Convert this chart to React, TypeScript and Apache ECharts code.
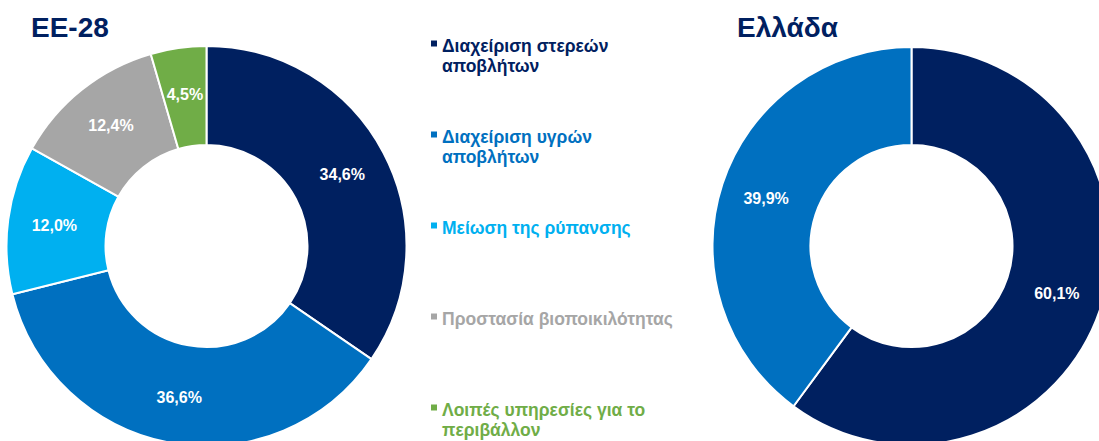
import React, { useEffect, useRef } from "react";
import * as echarts from "echarts";

const categories = [
  "Διαχείριση στερεών αποβλήτων",
  "Διαχείριση υγρών αποβλήτων",
  "Μείωση της ρύπανσης",
  "Προστασία βιοποικιλότητας",
  "Λοιπές υπηρεσίες για το περιβάλλον",
];
const legendLines = [
  ["Διαχείριση στερεών", "αποβλήτων"],
  ["Διαχείριση υγρών", "αποβλήτων"],
  ["Μείωση της ρύπανσης"],
  ["Προστασία βιοποικιλότητας"],
  ["Λοιπές υπηρεσίες για το", "περιβάλλον"],
];
const colors = ["#002060", "#0070C0", "#00B0F0", "#A6A6A6", "#70AD47"];
const eu28Values = [34.6, 36.6, 12.0, 12.4, 4.5];
const greeceCategories = [categories[0], categories[1]];
const greeceValues = [60.1, 39.9];
const titles = ["ΕΕ-28", "Ελλάδα"];

const FONT = '"Liberation Sans", Arial, sans-serif';

export default function App() {
  const ref = useRef<HTMLDivElement>(null);
  useEffect(() => {
    if (!ref.current) return;
    const chart = echarts.init(ref.current, undefined, { renderer: "svg" });
    const fmt = (p: any) => p.value.toFixed(1).replace(".", ",") + "%";
    const pieBase = {
      type: "pie",
      radius: [101, 200],
      clockwise: true,
      startAngle: 90,
      avoidLabelOverlap: false,
      itemStyle: { borderColor: "#ffffff", borderWidth: 2 },
      label: {
        show: true,
        position: "inside",
        formatter: fmt,
        color: "#ffffff",
        fontFamily: FONT,
        fontWeight: "bold",
        fontSize: 16,
      },
      labelLine: { show: false },
      emphasis: { disabled: true },
    };
    const legendGraphics: any[] = [];
    legendLines.forEach((lines, i) => {
      const base = 52 + i * 91;
      legendGraphics.push({
        type: "rect",
        left: 431,
        top: base - 11.5,
        shape: { width: 6, height: 6 },
        style: { fill: colors[i] },
      });
      legendGraphics.push({
        type: "text",
        left: 442,
        top: base - 16,
        style: {
          text: lines.join("\n"),
          fill: colors[i],
          font: `bold 17.5px ${FONT}`,
          lineHeight: 20,
        },
      });
    });
    chart.setOption({
      animation: false,
      title: [
        {
          text: titles[0],
          left: 26,
          top: 8,
          textStyle: { color: "#002060", fontFamily: FONT, fontWeight: "bold", fontSize: 28 },
        },
        {
          text: titles[1],
          left: 732,
          top: 8,
          textStyle: { color: "#002060", fontFamily: FONT, fontWeight: "bold", fontSize: 28 },
        },
      ],
      graphic: legendGraphics,
      series: [
        {
          ...pieBase,
          center: [206.5, 246],
          data: categories.map((c, i) => ({
            name: c,
            value: eu28Values[i],
            itemStyle: { color: colors[i] },
          })),
        },
        {
          ...pieBase,
          radius: [101, 199],
          center: [911.5, 246],
          data: greeceCategories.map((c, i) => ({
            name: c,
            value: greeceValues[i],
            itemStyle: { color: colors[i] },
          })),
        },
      ],
    });
    return () => chart.dispose();
  }, []);
  return (
    <div
      ref={ref}
      style={{ position: "fixed", left: 0, top: 0, width: 1099, height: 441, background: "#fff" }}
    />
  );
}
